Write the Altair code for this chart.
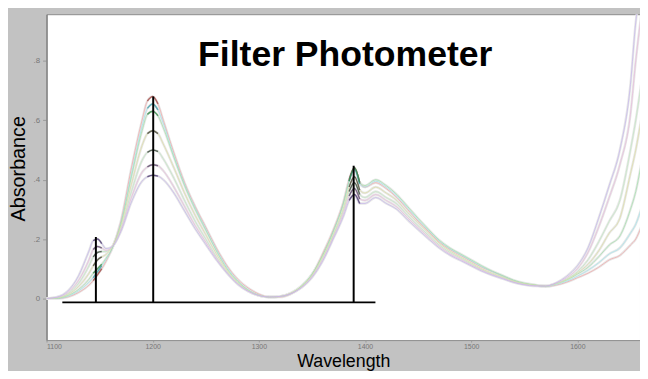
import altair as alt
import pandas as pd

# ---------------- data ----------------
wavelengths = [1100, 1110, 1120, 1130, 1140,
               1144, 1148, 1152, 1156, 1162, 1170,
               1180, 1190, 1195, 1200, 1205, 1210, 1220, 1230, 1240, 1250, 1260, 1270,
               1280, 1290, 1300, 1310, 1320, 1330, 1340, 1350, 1360, 1370,
               1380, 1385, 1390, 1395, 1400,
               1410, 1420, 1430, 1440, 1450, 1460, 1470, 1480, 1490, 1500,
               1510, 1520, 1530, 1540, 1550, 1560, 1570, 1580, 1590, 1600,
               1610, 1620, 1630, 1640, 1650, 1655, 1660]

spec_red = [0, 0.0, 0.005, 0.02, 0.045,
            0.06, 0.08, 0.10, 0.125, 0.17, 0.26,
            0.44, 0.60, 0.665, 0.68, 0.655, 0.60, 0.49, 0.39, 0.31, 0.24, 0.17, 0.11,
            0.065, 0.035, 0.015, 0.005, 0.005, 0.015, 0.04, 0.08, 0.15, 0.23,
            0.33, 0.40, 0.44, 0.39, 0.375,
            0.39, 0.37, 0.34, 0.30, 0.26, 0.225, 0.19, 0.165, 0.145, 0.125,
            0.105, 0.09, 0.075, 0.06, 0.05, 0.045, 0.04, 0.045, 0.055, 0.07,
            0.085, 0.105, 0.13, 0.145, 0.18, 0.2, 0.24]
spec_cyan = [0, 0.0, 0.007, 0.025, 0.055,
             0.07, 0.09, 0.11, 0.13, 0.17, 0.255,
             0.42, 0.58, 0.64, 0.655, 0.635, 0.59, 0.48, 0.385, 0.305, 0.235, 0.165, 0.105,
             0.06, 0.03, 0.012, 0.005, 0.006, 0.016, 0.04, 0.08, 0.145, 0.225,
             0.325, 0.395, 0.435, 0.385, 0.375,
             0.395, 0.375, 0.345, 0.305, 0.265, 0.228, 0.193, 0.167, 0.147, 0.127,
             0.107, 0.09, 0.075, 0.06, 0.05, 0.045, 0.04, 0.047, 0.058, 0.075,
             0.095, 0.12, 0.15, 0.17, 0.22, 0.25, 0.3]
spec_green = [0, 0.001, 0.01, 0.03, 0.065,
              0.085, 0.10, 0.115, 0.135, 0.17, 0.25,
              0.41, 0.565, 0.62, 0.63, 0.615, 0.575, 0.475, 0.38, 0.3, 0.23, 0.16, 0.1,
              0.058, 0.028, 0.011, 0.005, 0.007, 0.018, 0.042, 0.082, 0.145, 0.225,
              0.325, 0.395, 0.44, 0.39, 0.38,
              0.40, 0.38, 0.35, 0.31, 0.27, 0.232, 0.196, 0.17, 0.15, 0.13,
              0.11, 0.092, 0.077, 0.062, 0.052, 0.046, 0.042, 0.05, 0.062, 0.082,
              0.105, 0.14, 0.18, 0.21, 0.3, 0.36, 0.45]
spec_yellow = [0, 0.002, 0.013, 0.04, 0.085,
               0.11, 0.13, 0.14, 0.148, 0.175, 0.245,
               0.385, 0.515, 0.555, 0.565, 0.555, 0.52, 0.44, 0.355, 0.28, 0.215, 0.15, 0.095,
               0.055, 0.027, 0.011, 0.005, 0.007, 0.018, 0.04, 0.078, 0.14, 0.215,
               0.31, 0.375, 0.41, 0.365, 0.355,
               0.375, 0.355, 0.33, 0.29, 0.255, 0.22, 0.186, 0.16, 0.14, 0.12,
               0.10, 0.085, 0.072, 0.058, 0.05, 0.045, 0.042, 0.05, 0.064, 0.086,
               0.115, 0.16, 0.22, 0.27, 0.42, 0.5, 0.6]
spec_lime = [0, 0.003, 0.016, 0.05, 0.11,
             0.14, 0.155, 0.158, 0.158, 0.175, 0.235,
             0.36, 0.465, 0.492, 0.50, 0.495, 0.47, 0.405, 0.33, 0.26, 0.2, 0.14, 0.09,
             0.052, 0.026, 0.01, 0.005, 0.007, 0.017, 0.038, 0.075, 0.135, 0.21,
             0.3, 0.36, 0.39, 0.35, 0.34,
             0.36, 0.34, 0.318, 0.28, 0.245, 0.212, 0.18, 0.155, 0.136, 0.116,
             0.097, 0.082, 0.07, 0.056, 0.048, 0.044, 0.042, 0.05, 0.066, 0.09,
             0.13, 0.19, 0.26, 0.33, 0.5, 0.6, 0.72]
spec_pink = [0, 0.004, 0.02, 0.06, 0.13,
             0.165, 0.175, 0.17, 0.162, 0.175, 0.23,
             0.34, 0.425, 0.443, 0.45, 0.447, 0.43, 0.375, 0.31, 0.245, 0.19, 0.135, 0.087,
             0.05, 0.025, 0.01, 0.005, 0.007, 0.017, 0.037, 0.073, 0.13, 0.205,
             0.29, 0.345, 0.37, 0.335, 0.33,
             0.35, 0.33, 0.308, 0.272, 0.238, 0.206, 0.175, 0.15, 0.132, 0.113,
             0.095, 0.08, 0.068, 0.055, 0.047, 0.043, 0.042, 0.052, 0.07, 0.1,
             0.155, 0.24, 0.34, 0.45, 0.62, 0.8, 0.95]
spec_purple = [0, 0.005, 0.025, 0.075, 0.16,
               0.195, 0.20, 0.185, 0.168, 0.175, 0.225,
               0.325, 0.395, 0.41, 0.415, 0.412, 0.40, 0.355, 0.295, 0.235, 0.182, 0.13, 0.085,
               0.048, 0.024, 0.01, 0.005, 0.007, 0.016, 0.036, 0.07, 0.125, 0.2,
               0.28, 0.33, 0.35, 0.32, 0.32,
               0.34, 0.32, 0.3, 0.265, 0.232, 0.2, 0.17, 0.146, 0.128, 0.11,
               0.092, 0.078, 0.066, 0.054, 0.046, 0.042, 0.042, 0.053, 0.075, 0.11,
               0.17, 0.27, 0.38, 0.5, 0.72, 0.93, 1.05]

series_names = ["s1", "s2", "s3", "s4", "s5", "s6", "s7"]
series_values = [spec_red, spec_cyan, spec_green, spec_yellow, spec_lime, spec_pink, spec_purple]
line_colors = ["#f2a4a4", "#9fe3ec", "#9ee0a6", "#dcdca0", "#bfe6bf", "#e6b6da", "#c2b2ec"]
arc_colors = ["#a0504c", "#4a9ca6", "#3a8a4c", "#4a4a3c", "#3c463c", "#5c4c6c", "#4c3c6c"]

# filter positions (black filter-photometer lines)
filter_wl = [1146.5, 1200.5, 1389.3]
filter_top = [0.207, 0.68, 0.447]
baseline_y = -0.013
baseline_x = [1114.9, 1409.8]

# axis ticks
x_ticks = [1100, 1200, 1300, 1400, 1500, 1600]
y_ticks = [0, 0.2, 0.4, 0.6, 0.8]

# ---------------- tables ----------------
rows = []
for name, vals, lc, ac in zip(series_names, series_values, line_colors, arc_colors):
    for w, v in zip(wavelengths, vals):
        rows.append({"wl": w, "abs": v, "series": name, "lc": lc, "ac": ac})
df = pd.DataFrame(rows)

rules_df = pd.DataFrame({"wl": filter_wl, "top": filter_top,
                         "base": [baseline_y] * len(filter_wl)})
base_df = pd.DataFrame({"x1": [baseline_x[0]], "x2": [baseline_x[1]], "y": [baseline_y]})

xscale = alt.Scale(domain=[1100, 1659], nice=False, zero=False)
yscale = alt.Scale(domain=[-0.14, 0.957], nice=False, zero=False)

xaxis = alt.Axis(values=x_ticks, title="Wavelength", grid=False, format="d",
                 labelFontSize=7, labelColor="#777777", labelFont="Liberation Sans",
                 tickColor="#999999", tickSize=2, labelPadding=1,
                 domain=False, titleFontSize=18, titleFont="Liberation Sans",
                 titleFontWeight="normal", titleColor="#000000",
                 titleBaseline="alphabetic", titleY=27)
yaxis = alt.Axis(values=y_ticks, title="Absorbance", grid=False,
                 labelExpr="datum.value == 0 ? '0' : replace(format(datum.value, '.1f'), '0.', '.')",
                 labelFontSize=8, labelColor="#777777", labelFont="Liberation Sans",
                 tickColor="#999999", tickSize=4, labelPadding=3,
                 domainColor="#888888", domainWidth=1.5,
                 titleFontSize=20, titleFont="Liberation Sans", titleFontWeight="normal",
                 titleColor="#000000", titlePadding=5, titleY=156)

halo = alt.Chart(df).mark_line(strokeWidth=2.5, color="#e8e8e8", clip=True,
                               interpolate="monotone").encode(
    x=alt.X("wl:Q", scale=xscale, axis=xaxis),
    y=alt.Y("abs:Q", scale=yscale, axis=yaxis),
    detail="series:N",
)

lines = alt.Chart(df).mark_line(strokeWidth=1, clip=True, interpolate="monotone",
                                opacity=0.7).encode(
    x=alt.X("wl:Q", scale=xscale),
    y=alt.Y("abs:Q", scale=yscale),
    color=alt.Color("lc:N", scale=None),
    detail="series:N",
)

arcs = alt.Chart(df).transform_filter(
    "(datum.wl >= 1144 && datum.wl <= 1152) || (datum.wl >= 1195 && datum.wl <= 1205) || (datum.wl >= 1385 && datum.wl <= 1395)"
).transform_calculate(
    seg="datum.series + '_' + (datum.wl < 1170 ? 'a' : (datum.wl < 1300 ? 'b' : 'c'))"
).mark_line(strokeWidth=1.5, clip=True, interpolate="monotone", opacity=0.8).encode(
    x=alt.X("wl:Q", scale=xscale),
    y=alt.Y("abs:Q", scale=yscale),
    color=alt.Color("ac:N", scale=None),
    detail="seg:N",
)

vrules = alt.Chart(rules_df).mark_rule(color="black", strokeWidth=2).encode(
    x=alt.X("wl:Q", scale=xscale),
    y=alt.Y("base:Q", scale=yscale),
    y2="top:Q",
)

hrule = alt.Chart(base_df).mark_rule(color="black", strokeWidth=2).encode(
    x=alt.X("x1:Q", scale=xscale),
    x2="x2:Q",
    y=alt.Y("y:Q", scale=yscale),
)

chart = alt.layer(halo, lines, arcs, vrules, hrule).properties(
    width=601,
    height=330,
    padding={"left": 39, "top": 4, "right": 0, "bottom": 29},
    autosize=alt.AutoSizeParams(type="none"),
    background="#c2c2c2",
    title=alt.TitleParams("Filter Photometer", fontSize=36, font="Liberation Sans",
                          fontWeight="bold", color="#000000", anchor="middle",
                          frame="group", baseline="alphabetic", dy=92, dx=2),
).configure_view(fill="white", stroke="#8c8c8c", strokeWidth=1)

chart.save("out.html", embed_options={"renderer": "svg", "actions": False})
